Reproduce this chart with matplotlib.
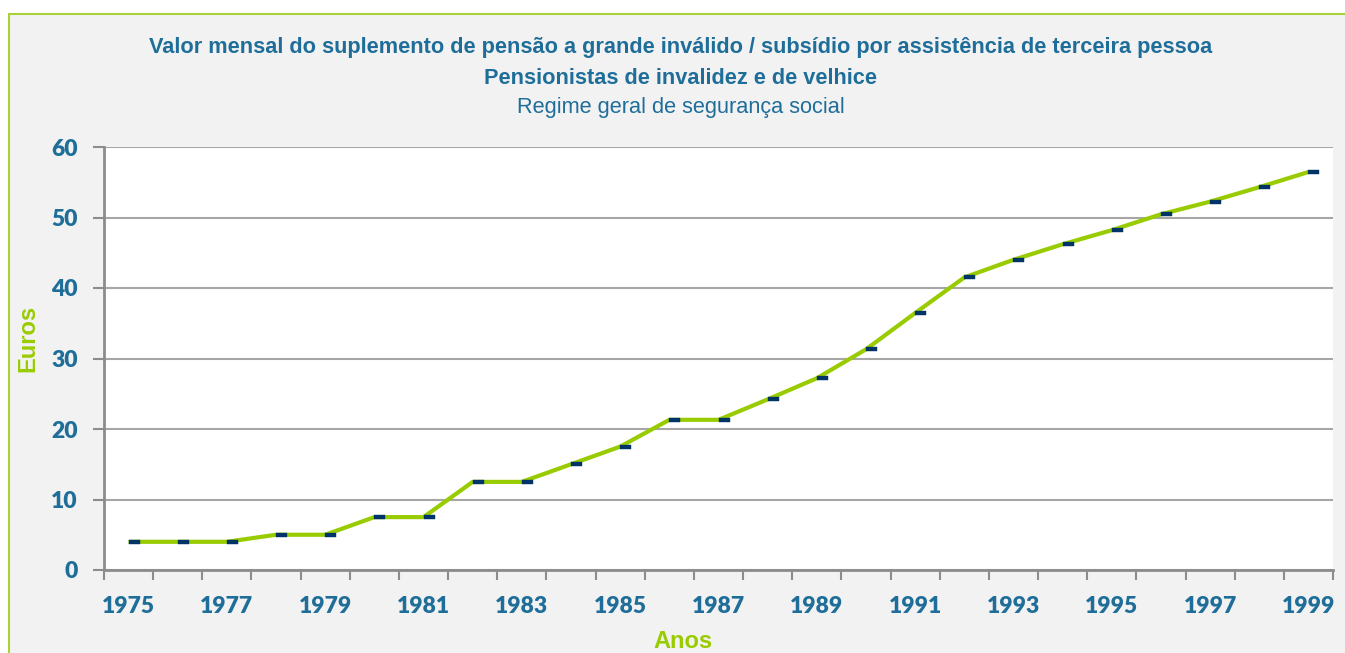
import matplotlib
matplotlib.use("Agg")
import matplotlib.pyplot as plt
from matplotlib.patches import Rectangle
from matplotlib.path import Path
from matplotlib import font_manager

years = [str(y) for y in range(1975, 2000)]
values = [4.0, 4.0, 4.0, 5.0, 5.0, 7.5, 7.5, 12.5, 12.5, 15.0, 17.5, 21.3, 21.3,
          24.2, 27.2, 31.3, 36.45, 41.5, 44.0, 46.2, 48.2, 50.45, 52.25, 54.3, 56.45]
yticks = [0, 10, 20, 30, 40, 50, 60]

title1 = "Valor mensal do suplemento de pensão a grande inválido / subsídio por assistência de terceira pessoa"
title2 = "Pensionistas de invalidez e de velhice"
title3 = "Regime geral de segurança social"

names = {f.name for f in font_manager.fontManager.ttflist}
narrow = 'Liberation Sans Narrow' if 'Liberation Sans Narrow' in names else 'Liberation Sans'
tickfont = 'Lato'

BLUE = '#1f6e9a'
GREEN = '#99cc00'
NAVY = '#003366'
GRID = '#a6a6a6'

W, H = 1345, 653
fig = plt.figure(figsize=(W / 100, H / 100), dpi=100)
fig.patch.set_facecolor('white')

# outer chart border / background
fig.patches.append(Rectangle((9 / W, -0.2), 1.2, (H - 14) / H + 0.2, transform=fig.transFigure,
                             facecolor='#f2f2f2', edgecolor='#a9d13a', linewidth=1.5, zorder=-5))

ax = fig.add_axes([104 / W, 1 - 570 / H, (1333 - 104) / W, (570 - 147) / H])
ax.set_zorder(2)
ax.set_facecolor('white')

x = list(range(len(years)))
ax.plot(x, values, color=GREEN, linewidth=3.0, solid_capstyle='butt', zorder=3)
marker = Path([(0, -0.22), (1, -0.22), (1, 0.22), (0, 0.22), (0, -0.22)],
              [Path.MOVETO, Path.LINETO, Path.LINETO, Path.LINETO, Path.CLOSEPOLY])
ax.plot(x, values, linestyle='none', marker=marker, markersize=16,
        markerfacecolor=NAVY, markeredgecolor=NAVY, markeredgewidth=0.3, zorder=4)

ax.set_xlim(-0.5, len(years) - 0.5)
ax.set_ylim(0, 60)

# boundary ticks (major, no labels) and centred labels (minor, every other year)
ax.set_xticks([i - 0.5 for i in range(len(years) + 1)])
ax.set_xticklabels([])
ax.set_xticks(x[::2], minor=True)
ax.set_xticklabels(years[::2], minor=True)
ax.tick_params(axis='x', which='major', length=7, width=1.5, color='#8c8c8c', direction='out')
ax.tick_params(axis='x', which='minor', length=0, pad=19)

ax.set_yticks(yticks)
ax.set_yticklabels([str(v) for v in yticks])
ax.tick_params(axis='y', length=8, width=1.5, color='#8c8c8c', pad=11)

for lab in ax.get_xticklabels(minor=True) + ax.get_yticklabels():
    lab.set_fontfamily(tickfont)
    lab.set_fontweight('heavy')
    lab.set_fontsize(16.5)
    lab.set_color(BLUE)

ax.grid(axis='y', color=GRID, linewidth=1.5, zorder=1)
ax.set_axisbelow(True)
for s in ['top', 'right']:
    ax.spines[s].set_visible(False)
for s in ['left', 'bottom']:
    ax.spines[s].set_color('#8c8c8c')
    ax.spines[s].set_linewidth(2)

fig.text(28 / W, 1 - 338 / H, 'Euros', rotation=90, ha='center', va='center',
         color=GREEN, fontsize=17, fontweight='bold', family=narrow)
fig.text(683 / W, 1 - 641 / H, 'Anos', ha='center', va='center',
         color=GREEN, fontsize=17, fontweight='bold', family=narrow)

fig.text(681 / W, 1 - 48 / H, title1, ha='center', va='center', color=BLUE,
         fontsize=15.7, fontweight='bold', family=narrow)
fig.text(681 / W, 1 - 79 / H, title2, ha='center', va='center', color=BLUE,
         fontsize=15.7, fontweight='bold', family=narrow)
fig.text(681 / W, 1 - 108 / H, title3, ha='center', va='center', color=BLUE,
         fontsize=15.7, family=narrow)

fig.savefig('out.png', dpi=100)
